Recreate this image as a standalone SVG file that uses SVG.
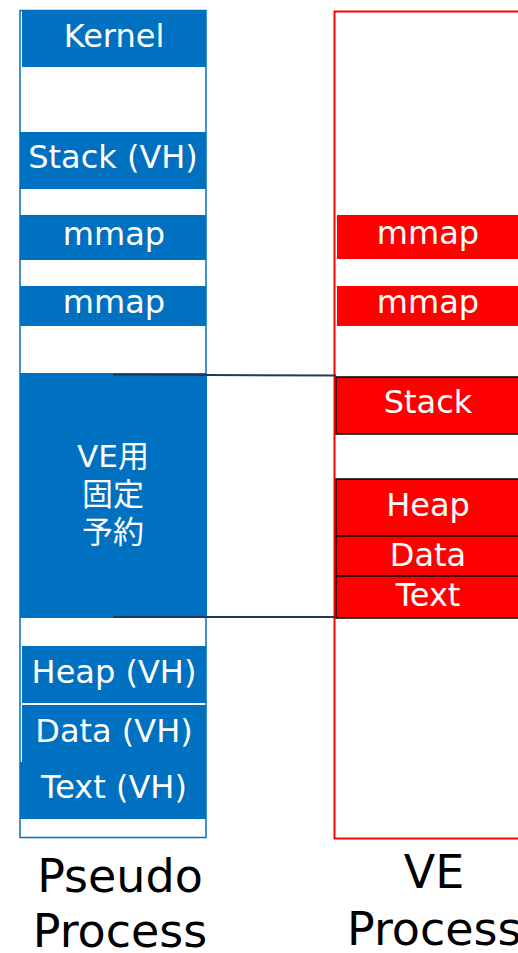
<svg xmlns="http://www.w3.org/2000/svg" width="518" height="953" viewBox="0 0 518 953">
  <style>
    .blue { fill: #0070C0; }
    .red { fill: #FF0000; }
    .redb { fill: #FF0000; stroke: #000000; stroke-width: 1.5; }
    .lbl { font-family: "DejaVu Sans", "Noto Sans CJK JP", sans-serif; font-size: 32px; fill: #FFFFFF; text-anchor: middle; }
    .cjk { font-size: 31px; }
    .cap { font-family: "DejaVu Sans", sans-serif; font-size: 46px; fill: #000000; }
    .link { stroke: #1F3864; stroke-width: 2; fill: none; }
  </style>
  <rect width="518" height="953" fill="#FFFFFF"/>

  <!-- pseudo process address space -->
  <g id="pseudo-process">
    <rect x="20" y="10.5" width="186" height="827" fill="#FFFFFF" stroke="#0070C0" stroke-width="1.5"/>
    <g id="pp-kernel"><rect class="blue" x="22" y="10" width="184" height="57"/><text class="lbl" x="114" y="47">Kernel</text></g>
    <g id="pp-stack"><rect class="blue" x="20" y="132" width="186" height="57"/><text class="lbl" x="113" y="168">Stack (VH)</text></g>
    <g id="pp-mmap1"><rect class="blue" x="20" y="215" width="186" height="45"/><text class="lbl" x="114" y="245">mmap</text></g>
    <g id="pp-mmap2"><rect class="blue" x="20" y="286" width="186" height="40"/><text class="lbl" x="114" y="313">mmap</text></g>
    <g id="pp-reserved">
      <rect class="blue" x="20" y="373" width="187" height="245"/>
      <text class="lbl cjk" x="113" y="467">VE用</text>
      <text class="lbl cjk" x="113" y="505">固定</text>
      <text class="lbl cjk" x="113" y="543">予約</text>
    </g>
    <g id="pp-heap"><rect class="blue" x="22" y="646" width="184" height="57"/><text class="lbl" x="114" y="683">Heap (VH)</text></g>
    <g id="pp-data"><rect class="blue" x="22" y="705" width="184" height="57"/><text class="lbl" x="114" y="742">Data (VH)</text></g>
    <g id="pp-text"><rect class="blue" x="20" y="762" width="186" height="57"/><text class="lbl" x="114" y="798">Text (VH)</text></g>
    <text class="cap" x="120" y="892" text-anchor="middle">Pseudo</text>
    <text class="cap" x="120" y="947" text-anchor="middle">Process</text>
  </g>

  <!-- VE process address space -->
  <g id="ve-process">
    <rect x="334.5" y="11.5" width="200" height="827" fill="none" stroke="#FF0000" stroke-width="2"/>
    <g id="ve-mmap1"><rect class="red" x="337" y="215" width="190" height="44"/><text class="lbl" x="428" y="244">mmap</text></g>
    <g id="ve-mmap2"><rect class="red" x="337" y="286" width="190" height="40"/><text class="lbl" x="428" y="313">mmap</text></g>
    <g id="ve-stack"><rect class="redb" x="336" y="377" width="190" height="57"/><text class="lbl" x="428" y="413">Stack</text></g>
    <g id="ve-heap"><rect class="redb" x="336" y="479" width="190" height="57"/><text class="lbl" x="428" y="516">Heap</text></g>
    <g id="ve-data"><rect class="redb" x="336" y="536" width="190" height="40"/><text class="lbl" x="428" y="566">Data</text></g>
    <g id="ve-text"><rect class="redb" x="336" y="576" width="190" height="42"/><text class="lbl" x="428" y="606">Text</text></g>
    <text class="cap" x="434" y="888" text-anchor="middle">VE</text>
    <text class="cap" x="347" y="945">Process</text>
  </g>

  <!-- mapping of the reserved region onto the VE process -->
  <g id="connectors">
    <line class="link" x1="113" y1="374.5" x2="336" y2="375.5"/>
    <line class="link" x1="113" y1="617" x2="336" y2="617"/>
  </g>
</svg>
